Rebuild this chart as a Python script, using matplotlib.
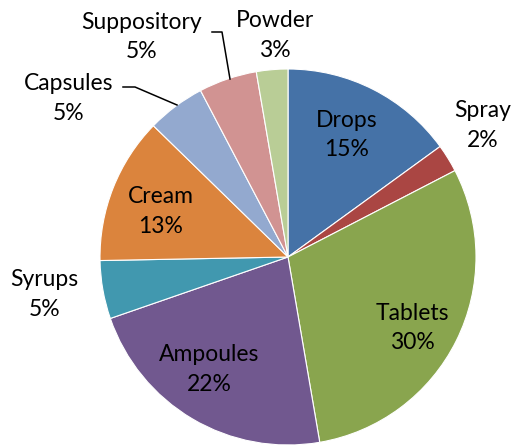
import numpy as np
import matplotlib
matplotlib.use('Agg')
import matplotlib.pyplot as plt

# data (clockwise from 12 o'clock)
categories = ['Drops', 'Spray', 'Tablets', 'Ampoules', 'Syrups', 'Cream',
              'Capsules', 'Suppository', 'Powder']
shares = [15.0, 2.4, 29.9, 22.4, 5.0, 12.6, 5.0, 5.0, 2.7]

colors = ['#4572A7', '#AA4643', '#89A54E', '#71588F', '#4198AF', '#DB843D',
          '#93A9CF', '#D19392', '#B9CD96']

# label placement (radius, angle from top clockwise in deg) in pie units
label_pos = {
    'Drops': (0.72, 25.5),
    'Spray': (1.25, 56.0),
    'Tablets': (0.76, 119.8),
    'Ampoules': (0.73, 215.0),
    'Syrups': (1.31, 261.2),
    'Cream': (0.72, 289.6),
    'Capsules': (1.44, 305.8),
    'Suppository': (1.406, 326.3),
    'Powder': (1.18, 356.6),
}

plt.rcParams['font.family'] = ['Lato', 'DejaVu Sans']

fig = plt.figure(figsize=(5.17, 4.46), dpi=100)
r_px = 188
cx, cy = 288, 446 - 257
ax = fig.add_axes([(cx - r_px) / 517, (cy - r_px) / 446, 2 * r_px / 517, 2 * r_px / 446])

wedges, _ = ax.pie(shares, colors=colors, startangle=90, counterclock=False,
                   wedgeprops=dict(edgecolor='white', linewidth=0.8))
ax.set_xlim(-1, 1)
ax.set_ylim(-1, 1)
ax.set_aspect('equal')
ax.axis('off')

def polar(r, ang):
    a = np.radians(ang)
    return r * np.sin(a), r * np.cos(a)

for name, val in zip(categories, shares):
    r, ang = label_pos[name]
    x, y = polar(r, ang)
    ax.text(x, y, f'{name}\n{round(val):.0f}%', ha='center', va='center',
            fontsize=16.5, linespacing=1.5, clip_on=False)

# leader lines for the two crowded labels
def px(xp, yp):
    return (xp - 288) / r_px, (257 - yp) / r_px

cap = [px(123, 87), px(135, 87), px(177, 105)]
sup = [px(212, 32), px(222, 32), px(230, 79)]
for pts in (cap, sup):
    xs, ys = zip(*pts)
    ax.plot(xs, ys, color='black', lw=1.1, clip_on=False)

fig.savefig('out.png', dpi=100)
